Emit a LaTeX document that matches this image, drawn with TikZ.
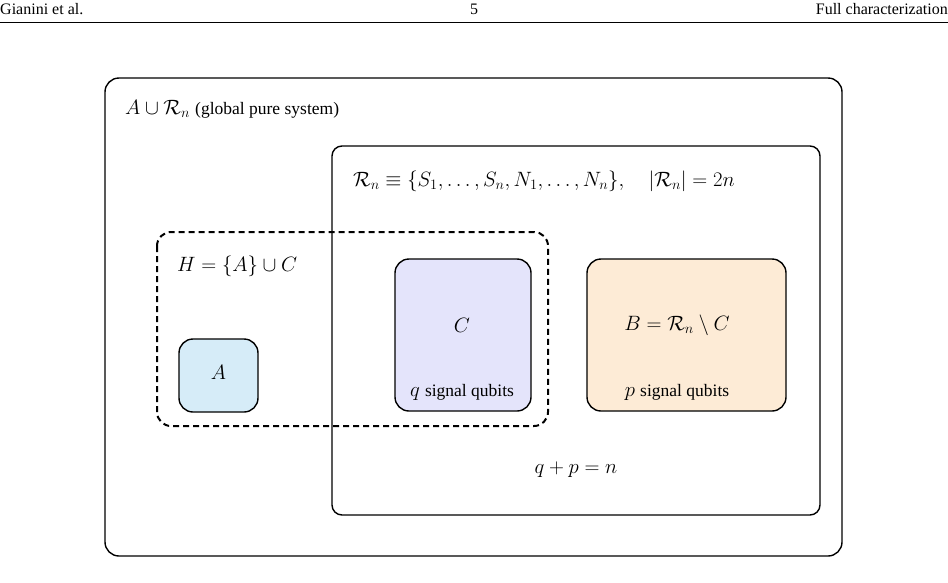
\documentclass[tikz,border=0pt]{standalone}
\usepackage{fontspec}
\setmainfont{Liberation Serif}
\usepackage{amsmath,amssymb}
\newcommand\mytx[1]{{\fontsize{17.5}{21}\selectfont #1}}
\begin{document}
\begin{tikzpicture}[x=1pt,y=-1pt,
  box/.style={draw=black,line width=1.4pt},
  txt/.style={font=\fontsize{21}{24}\selectfont,inner sep=0pt}]
\useasboundingbox (0,0) rectangle (948,582);
\node[txt,anchor=west,font=\fontsize{16}{18}\selectfont] (h1) at (0,9) {Gianini et al.};
\node[txt,font=\fontsize{16}{18}\selectfont] (h2) at (474,9) {5};
\node[txt,anchor=east,font=\fontsize{16}{18}\selectfont] (h3) at (948,9) {Full characterization};
\draw[line width=0.7pt] (0,22) -- (948,22);
\draw[box,rounded corners=14pt] (105,78) rectangle (842,556);
\draw[box,rounded corners=10pt] (332,146) rectangle (820,515);
\draw[box,fill={rgb,255:red,214;green,236;blue,248},rounded corners=14pt] (179,339) rectangle (258,412);
\draw[box,fill={rgb,255:red,228;green,228;blue,251},rounded corners=14pt] (395,259) rectangle (531,411);
\draw[box,fill={rgb,255:red,253;green,235;blue,214},rounded corners=14pt] (587,259) rectangle (786,411);
\draw[line width=2pt,dash pattern=on 6pt off 4pt,rounded corners=14pt] (157,232) rectangle (548,426);
\node[txt,anchor=west] (t1) at (125,109) {$A\cup\mathcal{R}_n$ \mytx{(global pure system)}};
\node[txt,anchor=west] (t2) at (353,181) {$\mathcal{R}_n\equiv\{S_1,\dots,S_n,N_1,\dots,N_n\},\quad|\mathcal{R}_n|=2n$};
\node[txt,anchor=west] (t3) at (177,266) {$H=\{A\}\cup C$};
\node[txt] (ta) at (218.5,372) {$A$};
\node[txt] (tc) at (462,325) {$C$};
\node[txt] (tq) at (462,392) {$q$ \mytx{signal qubits}};
\node[txt] (tb) at (677,325) {$B=\mathcal{R}_n\setminus C$};
\node[txt] (tp) at (677,392) {$p$ \mytx{signal qubits}};
\node[txt] (tn) at (576,470) {$q+p=n$};
\end{tikzpicture}
\end{document}
